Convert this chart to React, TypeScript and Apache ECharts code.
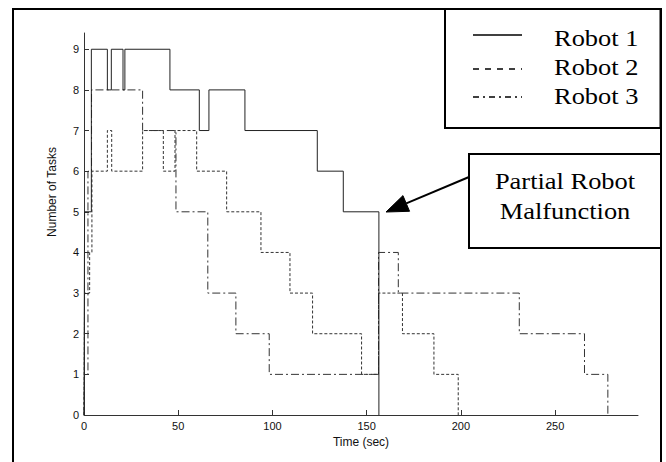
import { useEffect, useRef } from "react";
import * as echarts from "echarts";

// ---- data ----
const xTicks = [0, 50, 100, 150, 200, 250];
const yTicks = [0, 1, 2, 3, 4, 5, 6, 7, 8, 9];

const robot1Times = [0, 0.3, 3.9, 12.4, 14.5, 20.7, 21.7, 45.6, 61.2, 66.3, 85.4, 123.8, 137.6, 156.5];
const robot1Tasks = [0, 5, 9, 8, 9, 8, 9, 8, 7, 8, 7, 6, 5, 0];

const robot2Times = [0, 0.3, 3.0, 4.2, 12.4, 14.7, 31.1, 42.1, 48.3, 59.8, 75.7, 93.9, 109.3, 121.3, 147.3, 156.3, 169.0, 185.7, 198.6];
const robot2Tasks = [0, 3, 4, 6, 7, 6, 7, 6, 7, 6, 5, 4, 3, 2, 1, 3, 2, 1, 0];

const robot3Times = [0, 0.3, 2.1, 4.0, 31.1, 48.8, 65.7, 80.6, 98.3, 156.3, 166.8, 231.0, 265.6, 278.0];
const robot3Tasks = [0, 1, 6, 8, 7, 5, 3, 2, 1, 4, 3, 2, 1, 0];

const seriesNames = ["Robot 1", "Robot 2", "Robot 3"];
const annotationLines = ["Partial Robot", "Malfunction"];
const xName = "Time (sec)";
const yName = "Number of Tasks";

export default function App() {
  const ref = useRef<HTMLDivElement>(null);

  useEffect(() => {
    if (!ref.current) return;
    const chart = echarts.init(ref.current, null, { renderer: "svg" });
    const pairs = (ts: number[], vs: number[]) => ts.map((t, i) => [t, vs[i]]);
    const dashes: any[] = ["solid", [3, 2], [8, 3, 2, 3]];
    const legendDashes: any[] = [null, [6, 6], [6, 4, 2, 4]];
    const data = [
      pairs(robot1Times, robot1Tasks),
      pairs(robot2Times, robot2Tasks),
      pairs(robot3Times, robot3Tasks),
    ];
    const serif = "'Liberation Serif', 'Times New Roman', serif";
    const sans = "'Liberation Sans', Arial, sans-serif";

    const legendY = [35, 69, 97];
    const legendTextY = [38, 67, 96];
    const legendGraphics: any[] = [];
    seriesNames.forEach((name, i) => {
      legendGraphics.push({
        type: "line",
        shape: { x1: 473, y1: legendY[i], x2: 522, y2: legendY[i] },
        style: { stroke: "#000", lineWidth: 1.4, lineDash: legendDashes[i] || undefined },
        z: 20,
      });
      legendGraphics.push({
        type: "text",
        x: 554,
        y: legendTextY[i],
        scaleX: 1.15,
        style: {
          text: name,
          x: 0,
          y: 0,
          fill: "#000",
          font: `23px ${serif}`,
          textAlign: "left",
          textVerticalAlign: "middle",
        },
        z: 20,
      });
    });

    // arrow geometry
    const tip = [386, 212];
    const tail = [469, 177];
    const dx = tail[0] - tip[0];
    const dy = tail[1] - tip[1];
    const len = Math.sqrt(dx * dx + dy * dy);
    const ux = dx / len;
    const uy = dy / len;
    const headLen = 22;
    const headHalf = 8.5;
    const bx = tip[0] + ux * headLen;
    const by = tip[1] + uy * headLen;
    const nx = -uy;
    const ny = ux;

    const option: any = {
      animation: false,
      backgroundColor: "#fff",
      grid: { left: 84, top: 33, width: 554, height: 382, containLabel: false },
      xAxis: {
        type: "value",
        min: 0,
        max: 294,
        interval: 50,
        name: xName,
        nameLocation: "middle",
        nameGap: 20,
        nameTextStyle: { fontFamily: sans, fontSize: 12, color: "#111" },
        axisLine: { show: true, onZero: false, lineStyle: { color: "#333", width: 1 } },
        axisTick: { show: true, inside: true, length: 5, customValues: xTicks, lineStyle: { color: "#333" } },
        axisLabel: {
          customValues: xTicks,
          margin: 5,
          fontFamily: sans,
          fontSize: 11,
          color: "#111",
          formatter: (v: number) => (xTicks.includes(v) ? String(v) : ""),
        },
        splitLine: { show: false },
      },
      yAxis: {
        type: "value",
        min: 0,
        max: 9.4,
        interval: 1,
        axisLine: { show: true, onZero: false, lineStyle: { color: "#333", width: 1 } },
        axisTick: { show: true, inside: true, length: 5, customValues: yTicks, lineStyle: { color: "#333" } },
        axisLabel: {
          customValues: yTicks,
          margin: 5,
          fontFamily: sans,
          fontSize: 11,
          color: "#111",
          formatter: (v: number) => (yTicks.includes(v) ? String(v) : ""),
        },
        splitLine: { show: false },
      },
      series: seriesNames.map((name, i) => ({
        name,
        type: "line",
        step: "end",
        showSymbol: false,
        symbol: "none",
        data: data[i],
        lineStyle: { color: i === 0 ? "#222" : "#333", width: 1, type: dashes[i] },
        z: 3 - i,
      })),
      graphic: [
        {
          type: "rect",
          shape: { x: 13, y: 9, width: 648, height: 470 },
          style: { fill: "none", stroke: "#000", lineWidth: 2 },
          z: 10,
        },
        {
          type: "rect",
          shape: { x: 445, y: 9, width: 215.5, height: 119 },
          style: { fill: "#fff", stroke: "#000", lineWidth: 2 },
          z: 15,
        },
        ...legendGraphics,
        {
          type: "rect",
          shape: { x: 469, y: 154, width: 192, height: 94 },
          style: { fill: "#fff", stroke: "#000", lineWidth: 2 },
          z: 15,
        },
        ...annotationLines.map((t, i) => ({
          type: "text",
          x: 565,
          y: 181 + i * 30,
          scaleX: 1.15,
          style: {
            text: t,
            x: 0,
            y: 0,
            fill: "#000",
            font: `23px ${serif}`,
            textAlign: "center",
            textVerticalAlign: "middle",
          },
          z: 20,
        })),
        {
          type: "line",
          shape: { x1: tail[0], y1: tail[1], x2: bx, y2: by },
          style: { stroke: "#000", lineWidth: 2 },
          z: 20,
        },
        {
          type: "polygon",
          shape: {
            points: [
              [tip[0], tip[1]],
              [bx + nx * headHalf, by + ny * headHalf],
              [bx - nx * headHalf, by - ny * headHalf],
            ],
          },
          style: { fill: "#000", stroke: "#000", lineWidth: 1 },
          z: 20,
        },
        {
          type: "text",
          x: 52,
          y: 192,
          rotation: Math.PI / 2,
          style: {
            text: yName,
            x: 0,
            y: 0,
            fill: "#111",
            font: `12px ${sans}`,
            textAlign: "center",
            textVerticalAlign: "middle",
          },
          z: 20,
        },
      ],
    };
    chart.setOption(option);
    return () => chart.dispose();
  }, []);

  return (
    <div
      ref={ref}
      style={{ position: "fixed", left: 0, top: 0, width: 666, height: 462, background: "#fff" }}
    />
  );
}
